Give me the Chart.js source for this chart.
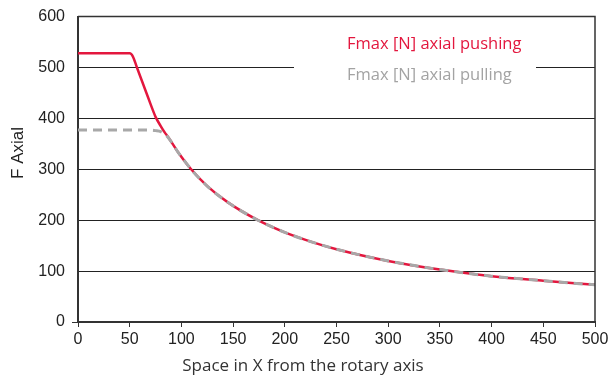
<!DOCTYPE html>
<html>
<head>
<meta charset="utf-8">
<script src="https://cdn.jsdelivr.net/npm/chart.js@4.4.1/dist/chart.umd.min.js"></script>
<style>
  html, body { margin: 0; padding: 0; background: #fff; }
  #wrap { width: 613px; height: 380px; }
</style>
</head>
<body>
<div id="wrap"><canvas id="forceChart" width="613" height="380"></canvas></div>
<script>
// values
const spaceX = [0, 25, 50, 53, 57, 66, 70, 75, 80, 84, 87, 97, 109, 125, 145, 174, 200, 225, 250, 300, 350, 400, 450, 500];
const pushing = [528, 528, 528, 522, 500, 451, 429, 403, 385, 372, 364, 333, 301, 267, 235, 200, 176, 158, 143, 120, 103, 90, 81, 73];
const pulling = [377, 377, 377, 377, 377, 377, 377, 376, 374, 369, 363, 333, 301, 267, 235, 200, 176, 158, 143, 120, 103, 90, 81, 73];
const yTicks = [0, 100, 200, 300, 400, 500, 600];
const xTicks = [0, 50, 100, 150, 200, 250, 300, 350, 400, 450, 500];

const labelPush = 'Fmax [N] axial pushing';
const labelPull = 'Fmax [N] axial pulling';
const xTitle = 'Space in X from the rotary axis';
const yTitle = 'F Axial';

const RED = '#e3173e';
const GREY = '#a8a8a8';
const TICK_FONT = '"Liberation Sans", Arial, sans-serif';

function toPoints(values) {
    return spaceX.map((x, i) => ({ x: x, y: values[i] }));
}

const decor = {
    id: 'decor',
    afterDraw(chart) {
        const ctx = chart.ctx;
        const a = chart.chartArea;
        ctx.save();

        // top and right frame
        ctx.strokeStyle = '#333';
        ctx.lineWidth = 1.5;
        ctx.beginPath();
        ctx.moveTo(a.left, a.top);
        ctx.lineTo(a.right, a.top);
        ctx.lineTo(a.right, a.bottom);
        ctx.stroke();

        // legend box inside the plot
        ctx.fillStyle = '#fff';
        ctx.fillRect(294, 30, 242, 58);
        ctx.font = '16.5px "Open Sans"';
        ctx.textBaseline = 'middle';
        ctx.textAlign = 'left';
        ctx.fillStyle = RED;
        ctx.fillText(chart.data.datasets[1].label, 347, 44);
        ctx.fillStyle = '#a3a3a3';
        ctx.fillText(chart.data.datasets[0].label, 347, 75);

        // axis titles
        ctx.fillStyle = '#333';
        ctx.textAlign = 'center';
        ctx.font = '17px "Open Sans"';
        ctx.fillText(xTitle, 303, 366);

        ctx.translate(18, 153);
        ctx.rotate(-Math.PI / 2);
        ctx.fillStyle = '#222';
        ctx.font = '17px ' + TICK_FONT;
        ctx.fillText(yTitle, 0, 0);

        ctx.restore();
    }
};

new Chart(document.getElementById('forceChart'), {
    type: 'line',
    data: {
        datasets: [
            {
                label: labelPull,
                data: toPoints(pulling),
                borderColor: GREY,
                borderWidth: 3,
                borderDash: [9, 6],
                pointRadius: 0,
                cubicInterpolationMode: 'monotone',
                order: 1
            },
            {
                label: labelPush,
                data: toPoints(pushing),
                borderColor: RED,
                borderWidth: 2.5,
                pointRadius: 0,
                cubicInterpolationMode: 'monotone',
                order: 2
            }
        ]
    },
    options: {
        responsive: false,
        animation: false,
        layout: { padding: { top: 16, right: 18, left: 0, bottom: 0 } },
        plugins: {
            legend: { display: false },
            tooltip: { enabled: false }
        },
        scales: {
            x: {
                type: 'linear',
                min: 0,
                max: 500,
                afterBuildTicks: s => { s.ticks = xTicks.map(v => ({ value: v })); },
                afterFit: s => { s.height = 58; },
                grid: {
                    drawOnChartArea: false,
                    drawTicks: true,
                    tickLength: 5,
                    tickColor: '#333'
                },
                border: { color: '#333', width: 2 },
                ticks: {
                    color: '#222',
                    padding: 3,
                    maxRotation: 0,
                    font: { family: TICK_FONT, size: 16 }
                }
            },
            y: {
                min: 0,
                max: 600,
                afterBuildTicks: s => { s.ticks = yTicks.map(v => ({ value: v })); },
                afterFit: s => { s.width = 78; },
                grid: {
                    color: ctx => (ctx.tick.value > 0 && ctx.tick.value < 600) ? '#222' : 'transparent',
                    lineWidth: 1,
                    drawTicks: true,
                    tickLength: 6,
                    tickColor: ctx => ctx.tick.value === 0 ? '#333' : 'transparent'
                },
                border: { color: '#333', width: 2 },
                ticks: {
                    color: '#222',
                    padding: 7,
                    font: { family: TICK_FONT, size: 16 }
                }
            }
        }
    },
    plugins: [decor]
});
</script>
</body>
</html>
